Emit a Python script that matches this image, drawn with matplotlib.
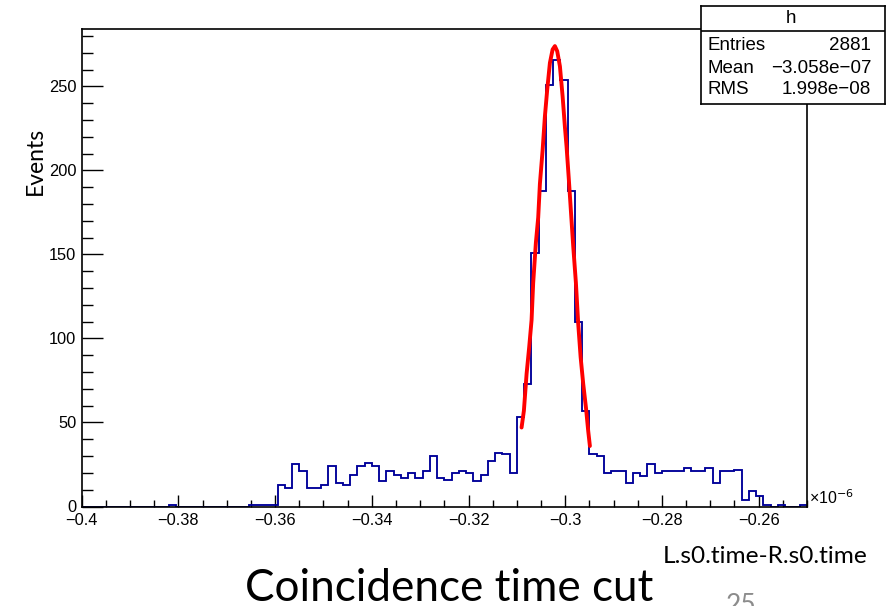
import numpy as np
import matplotlib
matplotlib.use("Agg")
import matplotlib.pyplot as plt
from matplotlib.ticker import MultipleLocator, FixedLocator, FixedFormatter

# ---------------- data ----------------
x_min, x_max, n_bins = -0.4, -0.25, 100          # x in units of 1e-6
counts_low = [0] * 12 + [1] + [0] * 10 + [1, 1, 1, 1]            # bins 0-26
counts_bg_left = [13, 11, 25, 21, 11, 11, 13, 24, 14, 13,
                  19, 24, 26, 24, 15, 21, 19, 17, 20, 17,
                  21, 30, 17, 16, 20, 21, 20, 15, 19, 27,
                  32, 31, 20]                                     # bins 27-59
counts_peak = [53, 73, 151, 188, 251, 266, 254, 188, 110, 57]     # bins 60-69
counts_bg_right = [31, 30, 20, 21, 21, 14, 20, 18, 25, 20,
                   21, 21, 21, 23, 21, 21, 23, 14, 21, 21,
                   22, 4, 9, 6, 1, 0, 1, 0, 0, 1]                 # bins 70-99
counts = counts_low + counts_bg_left + counts_peak + counts_bg_right

fit_x = [-0.30903, -0.30855, -0.30799, -0.30745, -0.30696, -0.30663, -0.30607,
         -0.30559, -0.30524, -0.30468, -0.30421, -0.30373, -0.30317, -0.30261,
         -0.30214, -0.30166, -0.30110, -0.30054, -0.30007, -0.29972, -0.29924,
         -0.29883, -0.29835, -0.29779, -0.29732, -0.29682, -0.29628, -0.29572,
         -0.29525, -0.29490]
fit_y = [47, 57, 79, 95, 111, 133, 157, 172, 192, 212, 232, 248, 264, 272, 274,
         271, 262, 244, 226, 214, 194, 176, 155, 133, 109, 89, 73, 59, 45, 36]

x_ticks = [-0.4, -0.38, -0.36, -0.34, -0.32, -0.3, -0.28, -0.26]
x_tick_labels = ["\u22120.4", "\u22120.38", "\u22120.36", "\u22120.34",
                 "\u22120.32", "\u22120.3", "\u22120.28", "\u22120.26"]
y_ticks = [0, 50, 100, 150, 200, 250]
y_max = 284

stats_title = "h"
stats_names = ["Entries", "Mean", "RMS"]
stats_values = ["2881", "\u22123.058e\u221207", "1.998e\u221208"]

# ---------------- figure ----------------
W, H = 894, 606
fig = plt.figure(figsize=(W / 100, H / 100), dpi=100, facecolor="white")

def fx(px):
    return px / W

def fy(py):
    return (H - py) / H

ax_l, ax_r, ax_t, ax_b = 81.7, 807, 29.3, 506.5
ax = fig.add_axes([fx(ax_l), fy(ax_b), fx(ax_r - ax_l), (ax_b - ax_t) / H])

root_font = "Liberation Sans"
slide_font = "Lato"

edges = np.linspace(x_min, x_max, n_bins + 1)
ax.stairs(counts, edges, color="#000099", lw=1.35, baseline=0, zorder=2)
ax.plot(fit_x, fit_y, color="#ff0000", lw=2.8, solid_joinstyle="round",
        solid_capstyle="round", zorder=3)

ax.set_xlim(x_min, x_max)
ax.set_ylim(0, y_max)

ax.xaxis.set_major_locator(FixedLocator(x_ticks))
ax.xaxis.set_major_formatter(FixedFormatter(x_tick_labels))
ax.xaxis.set_minor_locator(MultipleLocator(0.005))
ax.yaxis.set_major_locator(FixedLocator(y_ticks))
ax.yaxis.set_minor_locator(MultipleLocator(10))

for s in ax.spines.values():
    s.set_linewidth(1.2)
    s.set_color("black")

ax.tick_params(axis="x", which="major", direction="in", length=8.5, width=1.0,
               pad=4.5, labelsize=11.8, top=False)
ax.tick_params(axis="x", which="minor", direction="in", length=5, width=1.0,
               top=False)
ax.tick_params(axis="y", which="major", direction="in", length=15, width=1.0,
               pad=4, labelsize=11.8, right=False)
ax.tick_params(axis="y", which="minor", direction="in", length=8, width=1.0,
               right=False)
for lab in ax.get_xticklabels() + ax.get_yticklabels():
    lab.set_fontfamily(root_font)

# x10^-6 exponent label
fig.text(fx(809), fy(504), "\u00d710$^{\u22126}$", fontsize=11.5,
         family=root_font, ha="left", va="baseline")

# ---------------- stats box ----------------
bx_l, bx_r, bx_t, bx_b = 700.7, 885, 6, 104
sax = fig.add_axes([fx(bx_l), fy(bx_b), fx(bx_r - bx_l), (bx_b - bx_t) / H])
sax.set_xlim(0, 1)
sax.set_ylim(0, 1)
sax.set_xticks([])
sax.set_yticks([])
sax.set_facecolor("white")
for s in sax.spines.values():
    s.set_linewidth(1.2)
    s.set_color("black")
div = (bx_b - 30.7) / (bx_b - bx_t)
sax.axhline(div, color="black", lw=1.2)
sax.text(0.49, (bx_b - 18.5) / (bx_b - bx_t), stats_title, ha="center",
         va="center", fontsize=13.5, family=root_font)
row_y = [45.7, 68.3, 90]
for name, val, ry in zip(stats_names, stats_values, row_y):
    yy = (bx_b - ry) / (bx_b - bx_t)
    sax.text(0.035, yy, name, ha="left", va="center", fontsize=13.5,
             family=root_font)
    sax.text(0.925, yy, val, ha="right", va="center", fontsize=13.5,
             family=root_font)

# ---------------- slide overlay texts ----------------
renderer = fig.canvas.get_renderer()

def fit_text(t, target_w, horizontal=True):
    bb = t.get_window_extent(renderer=renderer)
    w = bb.width if horizontal else bb.height
    t.set_fontsize(t.get_fontsize() * target_w / w)

t_ev = fig.text(fx(35), fy(161), "Events", rotation=90, ha="center",
                va="center", fontsize=16, family=slide_font)
fit_text(t_ev, 68, horizontal=False)

t_xl = fig.text(fx(663), fy(563), "L.s0.time-R.s0.time", ha="left",
                va="baseline", fontsize=17, family=slide_font)
fit_text(t_xl, 205)

t_ti = fig.text(fx(245), fy(601), "Coincidence time cut", ha="left",
                va="baseline", fontsize=30, family=slide_font)
fit_text(t_ti, 407)

fig.text(fx(726), fy(613), "25", ha="left", va="baseline", fontsize=19,
         family=slide_font, color="#8c8c8c")

fig.savefig("out.png", dpi=100, facecolor="white")
